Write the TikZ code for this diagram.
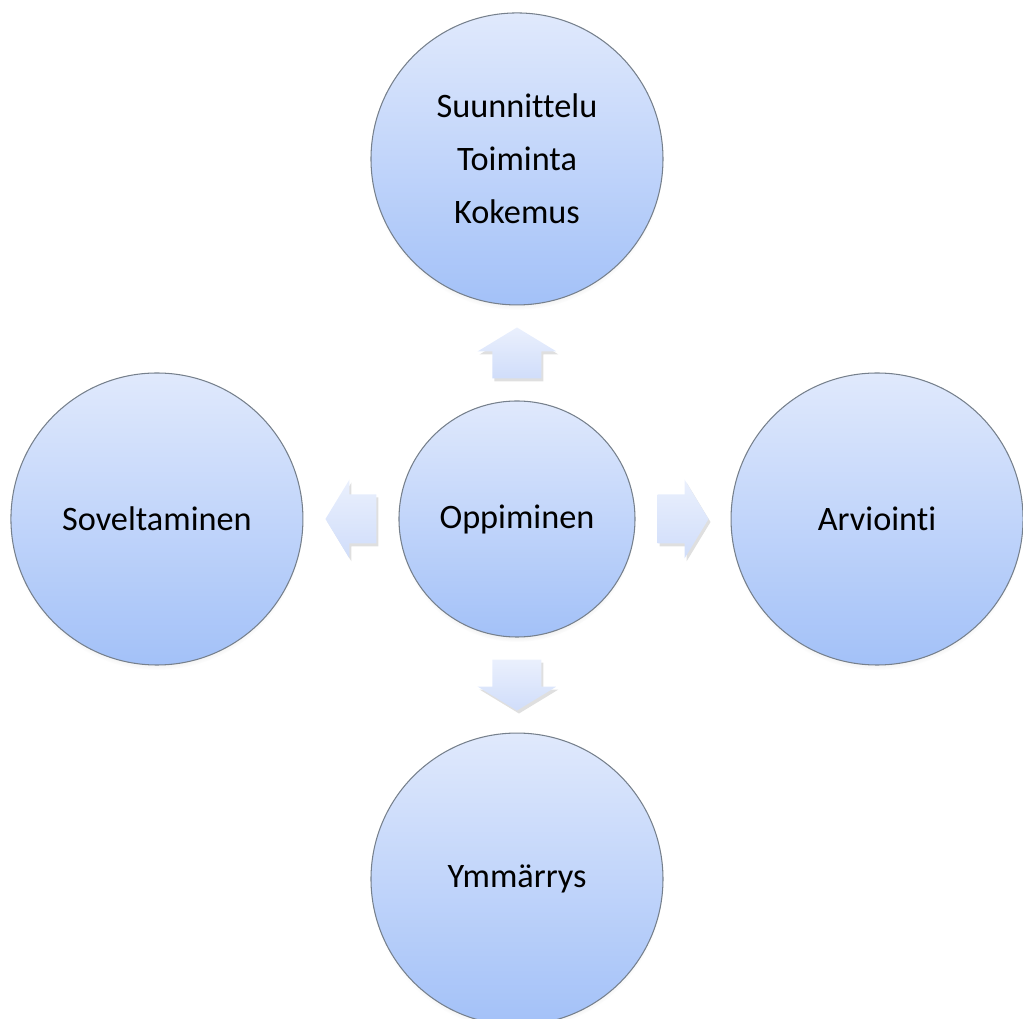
\documentclass[tikz,border=0pt]{standalone}
\usepackage{fontspec}
\setmainfont{Carlito}[Ligatures=NoCommon]
\usetikzlibrary{positioning,calc,shadows}

\definecolor{circtop}{RGB}{224,233,252}
\definecolor{circbot}{RGB}{163,193,248}
\definecolor{arrtop}{RGB}{234,240,253}
\definecolor{arrbot}{RGB}{208,221,250}
\definecolor{rimgray}{RGB}{118,128,140}

\tikzset{
  bigcirc/.style={circle,minimum size=5.84cm,inner sep=0pt,draw=rimgray,line width=0.6pt,
    top color=circtop,bottom color=circbot,
    circular drop shadow={shadow xshift=0pt,shadow yshift=-0.1cm,shadow scale=1.0,opacity=0.35},
    font=\fontsize{19.5}{30}\selectfont,align=center},
  midcirc/.style={bigcirc,minimum size=4.72cm},
  blockarr/.style={draw=none,top color=arrtop,bottom color=arrbot,
    drop shadow={shadow xshift=0.04cm,shadow yshift=-0.06cm,opacity=0.25}}
}

\begin{document}
\begin{tikzpicture}[x=1cm,y=1cm,node distance=1.9cm]
\useasboundingbox (-10.34,-10.0) rectangle (10.12,10.38);
\clip (-10.34,-10.0) rectangle (10.12,10.38);

% circles
\node[midcirc] (oppiminen) at (0,0) {Oppiminen};
\node[bigcirc,above=of oppiminen] (suunnittelu) {Suunnittelu\\Toiminta\\Kokemus};
\node[bigcirc,left=of oppiminen] (soveltaminen) {Soveltaminen};
\node[bigcirc,right=of oppiminen] (arviointi) {Arviointi};
\node[bigcirc,below=of oppiminen] (ymmarrys) {Ymmärrys};

% block arrows
\coordinate (arrup) at ($(oppiminen.north)!0.5!(suunnittelu.south)$);
\coordinate (arrleft) at ($(oppiminen.west)!0.5!(soveltaminen.east)$);
\coordinate (arrright) at ($(oppiminen.east)!0.5!(arviointi.west)$);
\coordinate (arrdown) at ($(oppiminen.south)!0.5!(ymmarrys.north)$);
\path[blockarr,shift={(arrup)}] (-0.49,-0.51) -- (0.49,-0.51) -- (0.49,0.03) -- (0.79,0.03)
  -- (0,0.51) -- (-0.79,0.03) -- (-0.49,0.03) -- cycle;
\path[blockarr,shift={(arrdown)}] (-0.49,0.51) -- (0.49,0.51) -- (0.49,-0.03) -- (0.79,-0.03)
  -- (0,-0.51) -- (-0.79,-0.03) -- (-0.49,-0.03) -- cycle;
\path[blockarr,shift={(arrright)}] (-0.51,-0.49) -- (0.03,-0.49) -- (0.03,-0.79) -- (0.51,0)
  -- (0.03,0.79) -- (0.03,0.49) -- (-0.51,0.49) -- cycle;
\path[blockarr,shift={(arrleft)}] (0.51,-0.49) -- (-0.03,-0.49) -- (-0.03,-0.79) -- (-0.51,0)
  -- (-0.03,0.79) -- (-0.03,0.49) -- (0.51,0.49) -- cycle;
\end{tikzpicture}
\end{document}
